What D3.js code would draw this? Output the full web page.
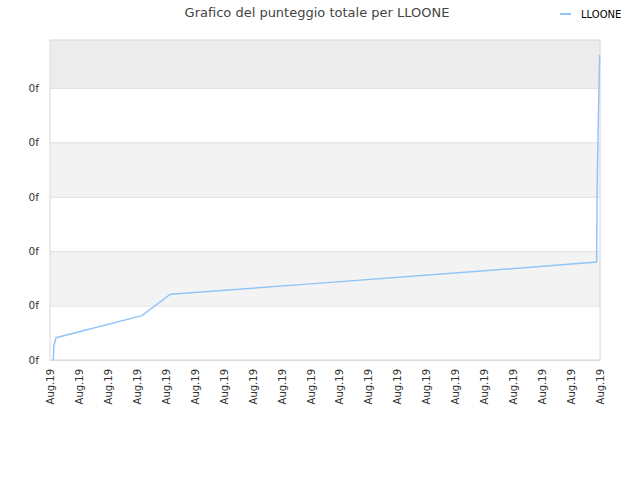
<!DOCTYPE html>
<html>
<head>
<meta charset="utf-8">
<script src="https://cdn.jsdelivr.net/npm/d3@7"></script>
<style>
  body { margin: 0; background: #fff; }
  text { font-family: "DejaVu Sans", sans-serif; }
</style>
</head>
<body>
<svg id="chart"></svg>
<script>
// data
const seriesName = "LLOONE";
const times = [
  "2019-08-01T02:45", "2019-08-01T03:05", "2019-08-01T05:00",
  "2019-08-04T04:15", "2019-08-05T03:47", "2019-08-09T15:50",
  "2019-08-15T21:36", "2019-08-19T21:14", "2019-08-19T21:29",
  "2019-08-19T21:49", "2019-08-19T22:54", "2019-08-19T23:43"
];
const scores = [0, 5, 8.2, 16.3, 24.2, 27.7, 32.7, 36.0, 55.1, 69.1, 94.5, 112.1];
const yTicks = [0, 20, 40, 60, 80, 100];
const xStart = "2019-08-01T00:00";
const xEnd = "2019-08-20T00:00";

const config = {
  width: 640,
  height: 480,
  margin: { top: 40, right: 40, bottom: 120, left: 50 }
};

const parse = d3.timeParse("%Y-%m-%dT%H:%M");
const data = times.map((t, i) => ({ date: parse(t), value: scores[i] }));

const width = config.width - config.margin.left - config.margin.right;
const height = config.height - config.margin.top - config.margin.bottom;

const svg = d3.select("#chart")
  .attr("width", config.width)
  .attr("height", config.height);

// title
svg.append("text")
  .attr("x", 317)
  .attr("y", 17)
  .attr("text-anchor", "middle")
  .attr("fill", "#444")
  .style("font-size", "13px")
  .text("Grafico del punteggio totale per " + seriesName);

// legend
const legend = svg.append("g").attr("transform", "translate(560,14)");
legend.append("line")
  .attr("x1", 0).attr("x2", 11)
  .attr("stroke", "#92c5f7")
  .attr("stroke-width", 2);
legend.append("text")
  .attr("x", 21)
  .attr("y", 4)
  .attr("fill", "#000")
  .style("font-size", "10px")
  .text(seriesName);

const chart = svg.append("g")
  .attr("transform", `translate(${config.margin.left},${config.margin.top})`);

const xScale = d3.scaleTime()
  .domain([parse(xStart), parse(xEnd)])
  .range([0, width]);

const yScale = d3.scaleLinear()
  .domain([0, 117.6])
  .range([height, 0]);

// alternating background bands
const bandEdges = yTicks.concat([yScale.domain()[1]]);
chart.selectAll(".band")
  .data(d3.pairs(bandEdges))
  .join("rect")
  .attr("class", "band")
  .attr("x", 0)
  .attr("width", width)
  .attr("y", d => yScale(d[1]))
  .attr("height", d => yScale(d[0]) - yScale(d[1]))
  .attr("fill", (d, i) => i % 2 === 0 ? "#ffffff" : (i === 5 ? "#ececec" : "#f3f3f3"));

// y axis with grid lines
const yAxis = d3.axisLeft(yScale)
  .tickValues(yTicks)
  .tickSize(-width)
  .tickPadding(11)
  .tickFormat(() => "0f");

const yAxisG = chart.append("g").call(yAxis);
yAxisG.select(".domain").remove();
yAxisG.selectAll("line").attr("stroke", "#dedede");
yAxisG.selectAll("text")
  .attr("fill", "#333")
  .style("font-size", "10.5px");

// x axis
const xAxis = d3.axisBottom(xScale)
  .ticks(d3.timeDay.every(1))
  .tickSize(0)
  .tickFormat(d3.timeFormat("%b.%y"));

const xAxisG = chart.append("g")
  .attr("transform", `translate(0,${height})`)
  .call(xAxis);
xAxisG.select(".domain").remove();
xAxisG.selectAll("text")
  .attr("fill", "#333")
  .style("font-size", "10px")
  .attr("text-anchor", "end")
  .attr("transform", "rotate(-90)")
  .attr("x", -9)
  .attr("y", 0)
  .attr("dy", "0.35em");

// frame
chart.append("rect")
  .attr("width", width)
  .attr("height", height)
  .attr("fill", "none")
  .attr("stroke", "#d8d8d8");

// score line
const line = d3.line()
  .x(d => xScale(d.date))
  .y(d => yScale(d.value));

chart.append("path")
  .datum(data)
  .attr("fill", "none")
  .attr("stroke", "#92c5f7")
  .attr("stroke-width", 1.5)
  .attr("d", line);
</script>
</body>
</html>
